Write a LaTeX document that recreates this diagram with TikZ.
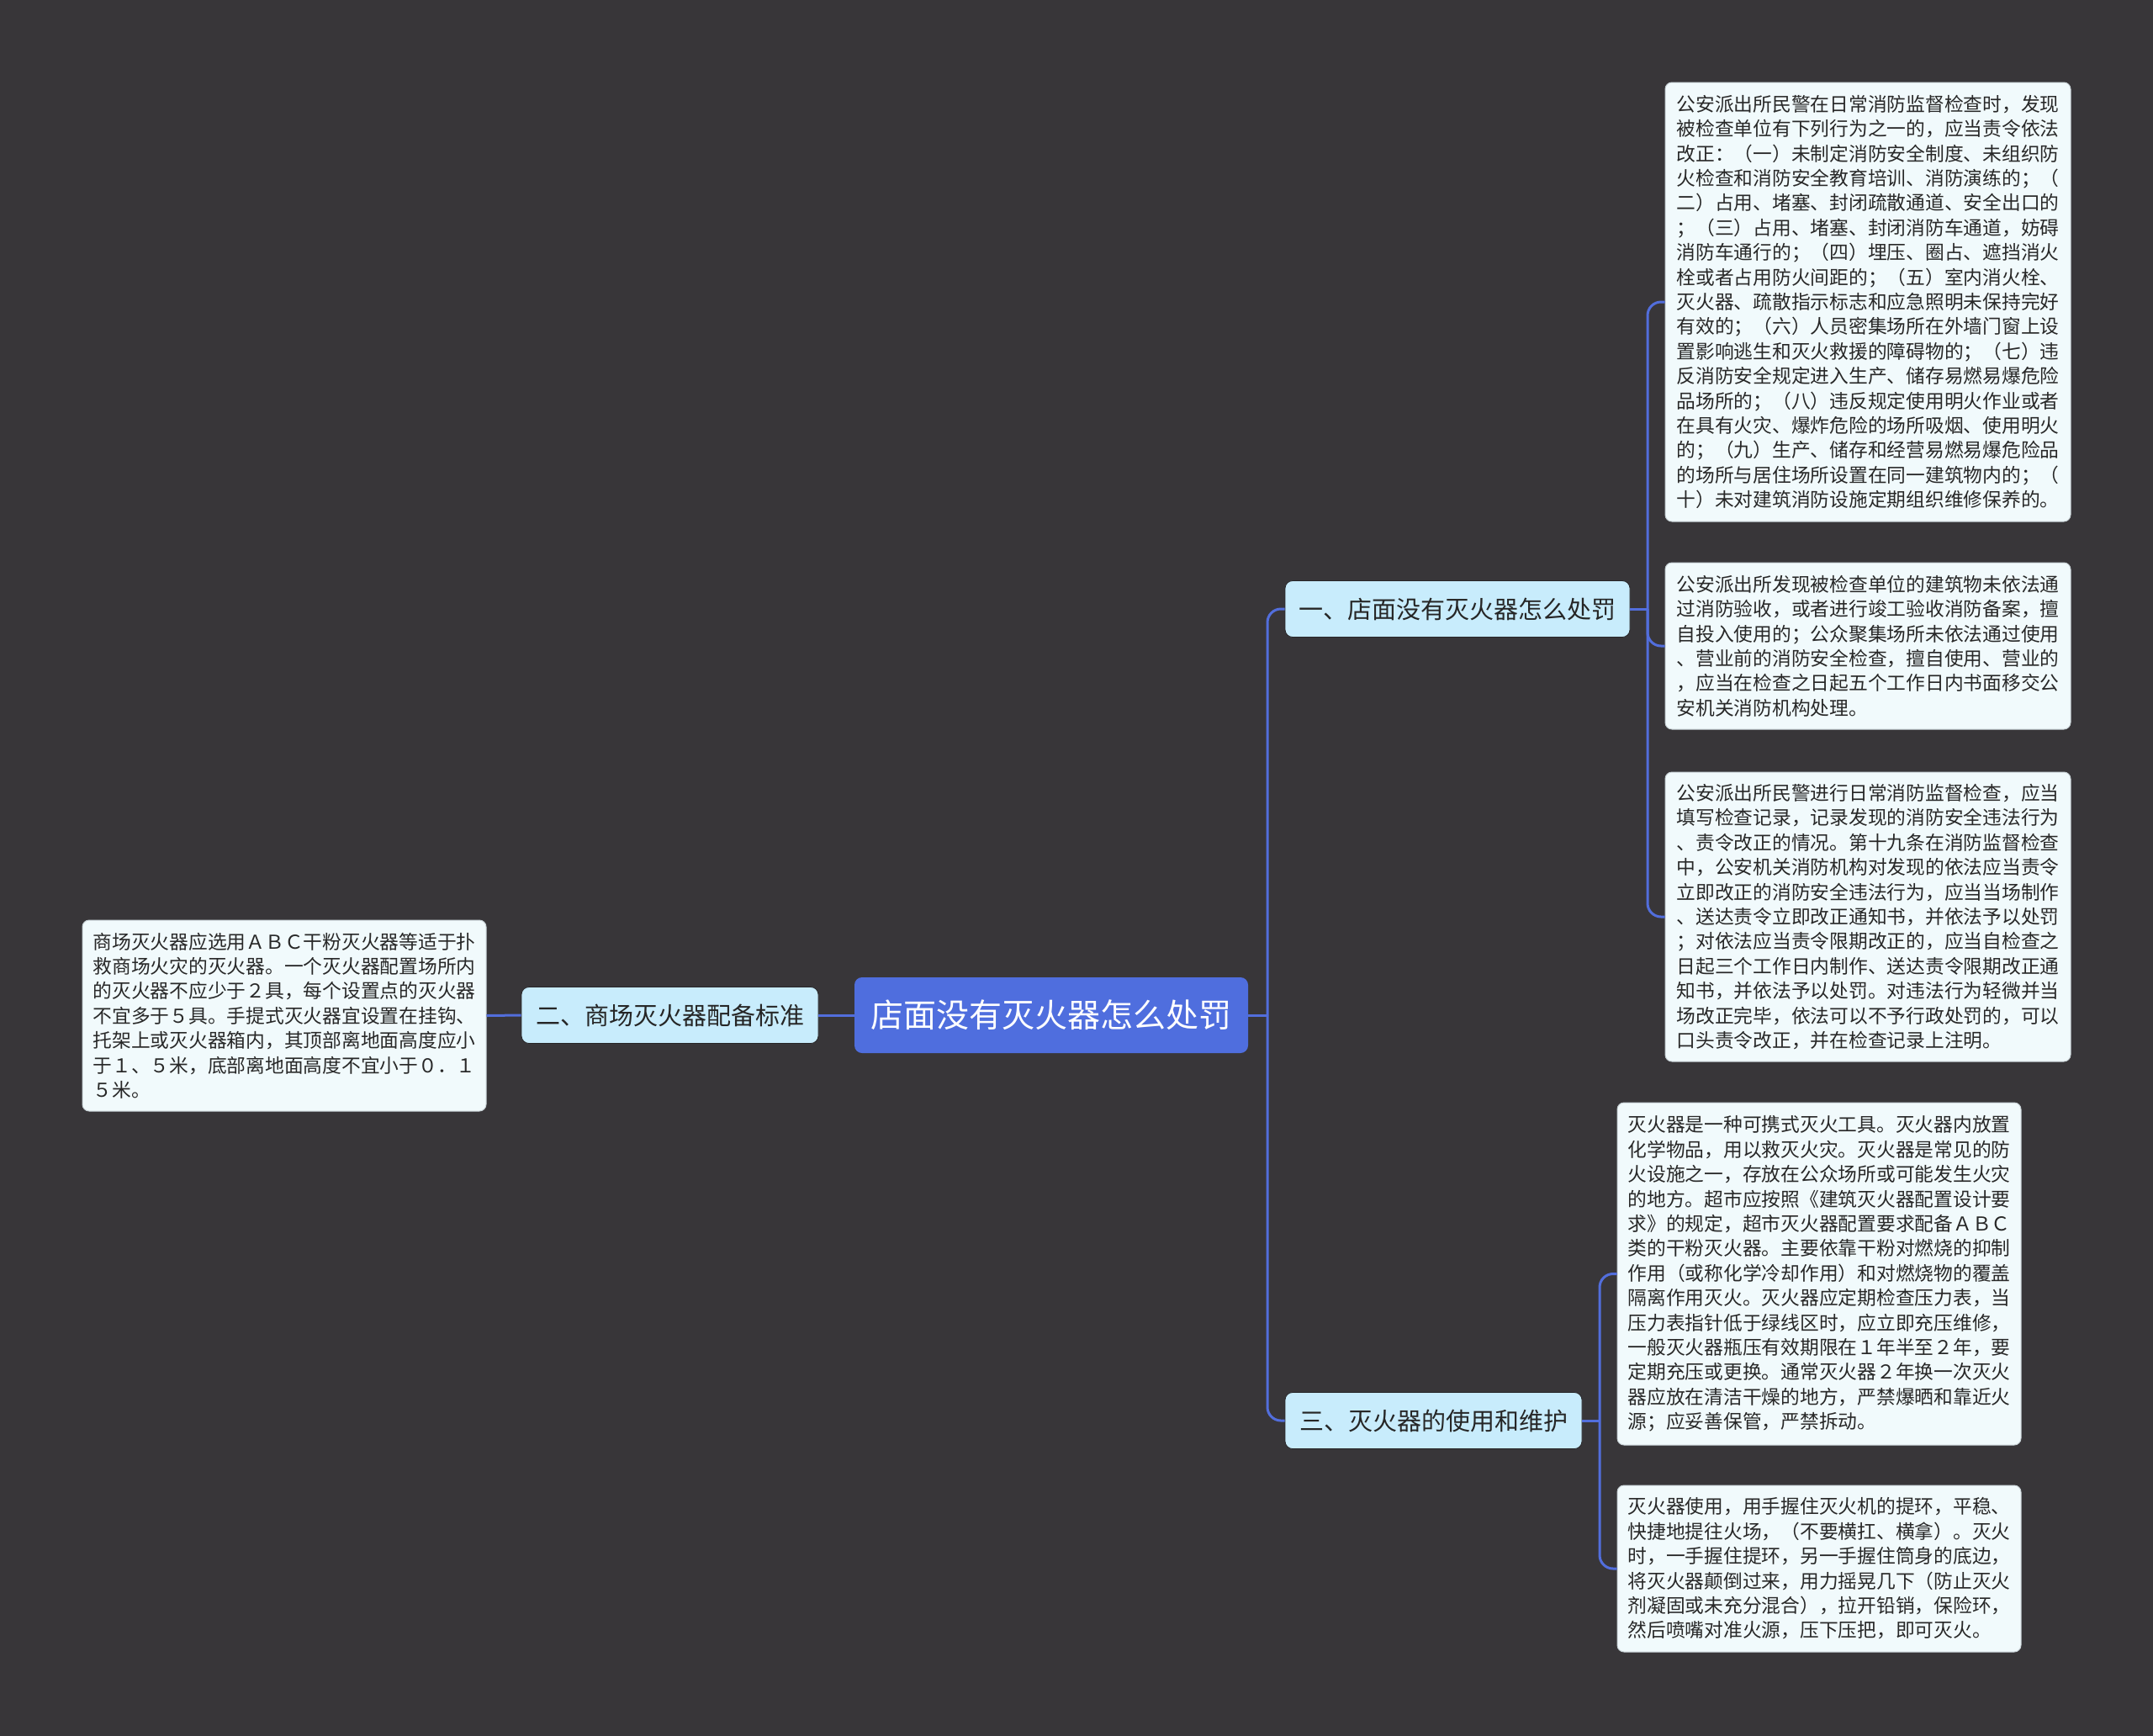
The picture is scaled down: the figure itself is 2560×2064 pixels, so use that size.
\documentclass[tikz,border=0pt]{standalone}
\usepackage{fontspec}
\newfontfamily\cjk{Noto Sans CJK SC}
\definecolor{bgcol}{RGB}{56,54,57}
\definecolor{rootfill}{RGB}{79,110,222}
\definecolor{linecol}{RGB}{82,110,220}
\definecolor{branchfill}{RGB}{200,236,252}
\definecolor{leaffill}{RGB}{241,250,252}
\definecolor{leafborder}{RGB}{200,210,214}
\definecolor{leaftext}{RGB}{40,40,40}
\begin{document}
\begin{tikzpicture}[x=1pt,y=-1pt,
  leaf/.style={draw=leafborder, line width=1pt, fill=leaffill, rounded corners=8pt, inner sep=0pt, align=left, text=leaftext, font=\cjk\fontsize{22.75}{29.4}\selectfont},
  branch/.style={draw=bgcol!70!black, line width=0.8pt, fill=branchfill, rounded corners=9pt, inner sep=0pt, minimum height=67pt, text=black!85, font=\cjk\fontsize{29}{35}\selectfont},
  rootbox/.style={fill=rootfill, rounded corners=9pt, inner sep=0pt, minimum width=468pt, minimum height=90pt, text=white, font=\cjk\fontsize{39}{46}\selectfont},
  conn/.style={draw=linecol, line width=3pt},
  curve/.style={conn, rounded corners=16pt}]
\fill[bgcol] (0,0) rectangle (2560,2064);
\useasboundingbox (0,0) rectangle (2560,2064);

\node[rootbox] (root) at (1250,1207) {店面没有灭火器怎么处罚};
\node[branch, minimum width=410pt] (b1) at (1733,724) {一、店面没有灭火器怎么处罚};
\node[branch, minimum width=353pt] (b2) at (796.5,1207) {二、商场灭火器配备标准};
\node[branch, minimum width=353pt] (b3) at (1704.5,1689) {三、灭火器的使用和维护};

\node[leaf, minimum width=482pt, minimum height=522pt] (L1) at (2221,359) {公安派出所民警在日常消防监督检查时，发现\\被检查单位有下列行为之一的，应当责令依法\\改正：（一）未制定消防安全制度、未组织防\\火检查和消防安全教育培训、消防演练的；（\\二）占用、堵塞、封闭疏散通道、安全出口的\\；（三）占用、堵塞、封闭消防车通道，妨碍\\消防车通行的；（四）埋压、圈占、遮挡消火\\栓或者占用防火间距的；（五）室内消火栓、\\灭火器、疏散指示标志和应急照明未保持完好\\有效的；（六）人员密集场所在外墙门窗上设\\置影响逃生和灭火救援的障碍物的；（七）违\\反消防安全规定进入生产、储存易燃易爆危险\\品场所的；（八）违反规定使用明火作业或者\\在具有火灾、爆炸危险的场所吸烟、使用明火\\的；（九）生产、储存和经营易燃易爆危险品\\的场所与居住场所设置在同一建筑物内的；（\\十）未对建筑消防设施定期组织维修保养的。};

\node[leaf, minimum width=482pt, minimum height=198pt] (L2) at (2221,768) {公安派出所发现被检查单位的建筑物未依法通\\过消防验收，或者进行竣工验收消防备案，擅\\自投入使用的；公众聚集场所未依法通过使用\\、营业前的消防安全检查，擅自使用、营业的\\，应当在检查之日起五个工作日内书面移交公\\安机关消防机构处理。};

\node[leaf, minimum width=482pt, minimum height=344pt] (L3) at (2221,1090) {公安派出所民警进行日常消防监督检查，应当\\填写检查记录，记录发现的消防安全违法行为\\、责令改正的情况。第十九条在消防监督检查\\中，公安机关消防机构对发现的依法应当责令\\立即改正的消防安全违法行为，应当当场制作\\、送达责令立即改正通知书，并依法予以处罚\\；对依法应当责令限期改正的，应当自检查之\\日起三个工作日内制作、送达责令限期改正通\\知书，并依法予以处罚。对违法行为轻微并当\\场改正完毕，依法可以不予行政处罚的，可以\\口头责令改正，并在检查记录上注明。};

\node[leaf, minimum width=480pt, minimum height=407pt] (L4) at (2163,1514.5) {灭火器是一种可携式灭火工具。灭火器内放置\\化学物品，用以救灭火灾。灭火器是常见的防\\火设施之一，存放在公众场所或可能发生火灾\\的地方。超市应按照《建筑灭火器配置设计要\\求》的规定，超市灭火器配置要求配备ＡＢＣ\\类的干粉灭火器。主要依靠干粉对燃烧的抑制\\作用（或称化学冷却作用）和对燃烧物的覆盖\\隔离作用灭火。灭火器应定期检查压力表，当\\压力表指针低于绿线区时，应立即充压维修，\\一般灭火器瓶压有效期限在１年半至２年，要\\定期充压或更换。通常灭火器２年换一次灭火\\器应放在清洁干燥的地方，严禁爆晒和靠近火\\源；应妥善保管，严禁拆动。};

\node[leaf, minimum width=480pt, minimum height=198pt] (L5) at (2163,1865) {灭火器使用，用手握住灭火机的提环，平稳、\\快捷地提往火场，（不要横扛、横拿）。灭火\\时，一手握住提环，另一手握住筒身的底边，\\将灭火器颠倒过来，用力摇晃几下（防止灭火\\剂凝固或未充分混合），拉开铅销，保险环，\\然后喷嘴对准火源，压下压把，即可灭火。};

\node[leaf, minimum width=480pt, minimum height=227pt] (L0) at (338,1207.5) {商场灭火器应选用ＡＢＣ干粉灭火器等适于扑\\救商场火灾的灭火器。一个灭火器配置场所内\\的灭火器不应少于２具，每个设置点的灭火器\\不宜多于５具。手提式灭火器宜设置在挂钩、\\托架上或灭火器箱内，其顶部离地面高度应小\\于１、５米，底部离地面高度不宜小于０．１\\５米。};

\coordinate (s0) at (1507,1207);
\coordinate (s1) at (1959,724);
\coordinate (s3) at (1902,1689);

\draw[conn] (root.east) -- (s0);
\draw[curve] (s0) |- (b1.west);
\draw[curve] (s0) |- (b3.west);
\draw[conn] (root.west) -- (b2.east);
\draw[conn] (b2.west) -- (L0.east);

\draw[conn] (b1.east) -- (s1);
\draw[curve] (s1) |- (L1.west);
\draw[curve] (s1) |- (L2.west);
\draw[curve] (s1) |- (L3.west);

\draw[conn] (b3.east) -- (s3);
\draw[curve] (s3) |- (L4.west);
\draw[curve] (s3) |- (L5.west);
\end{tikzpicture}
\end{document}
